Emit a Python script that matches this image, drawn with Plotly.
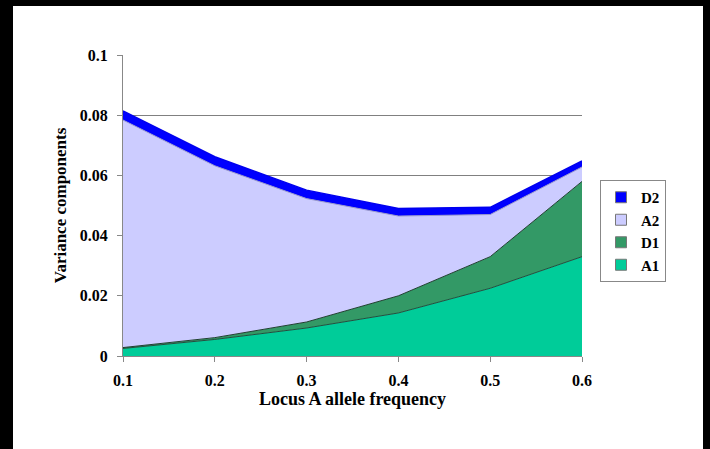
import plotly.graph_objects as go

# Allele frequency at locus A
freq = [0.1, 0.2, 0.3, 0.4, 0.5, 0.6]

# Variance components (stacked)
A1 = [0.0025, 0.0055, 0.0093, 0.0143, 0.0225, 0.0330]
D1 = [0.0003, 0.0006, 0.0020, 0.0057, 0.0105, 0.0250]
A2 = [0.0756, 0.0571, 0.0410, 0.0265, 0.0140, 0.0048]
D2 = [0.0030, 0.0030, 0.0028, 0.0025, 0.0024, 0.0020]

y_ticks = [0, 0.02, 0.04, 0.06, 0.08, 0.1]
y_ticktext = ["0", "0.02", "0.04", "0.06", "0.08", "0.1"]
x_ticktext = ["0.1", "0.2", "0.3", "0.4", "0.5", "0.6"]

series = [
    ("A1", A1, "#00CC99", "#1f4f3f", 1),
    ("D1", D1, "#339966", "#1f3f2f", 1),
    ("A2", A2, "#CCCCFF", "#9999cc", 1),
    ("D2", D2, "#0000FF", "#0000EE", 1.5),
]

SERIF = "Liberation Serif"

fig = go.Figure()
for name, vals, fill, edge, w in series:
    fig.add_trace(go.Scatter(
        x=freq, y=vals, name=name, mode="lines",
        stackgroup="vc", fillcolor=fill,
        line=dict(color=edge, width=w),
        hoverinfo="x+y+name", showlegend=False,
    ))

# square swatches for the legend
for name, vals, fill, edge, w in series:
    fig.add_trace(go.Scatter(
        x=[None], y=[None], name=name, mode="markers",
        marker=dict(symbol="square", size=11, color=fill,
                    line=dict(color="#777777", width=1)),
        showlegend=True,
    ))

W, H = 710, 449
L, R, T, B = 123, 128, 55, 93
pw = W - L - R
ph = H - T - B

def px_x(p):
    return (p - L) / pw

def px_y(p):
    return (H - B - p) / ph

# dark frame along the left, top and right edges of the page
frame = [(0, 0, 13, H), (0, 0, W, 6), (703, 0, W, H)]
shapes = []
for x0, y0, x1, y1 in frame:
    shapes.append(dict(
        type="rect", xref="paper", yref="paper",
        x0=px_x(x0), x1=px_x(x1), y0=px_y(y1), y1=px_y(y0),
        fillcolor="black", line=dict(width=0), layer="above",
    ))

fig.update_layout(
    width=W, height=H,
    margin=dict(l=L, r=R, t=T, b=B),
    paper_bgcolor="white", plot_bgcolor="white",
    font=dict(family=SERIF, size=16, color="black"),
    showlegend=True,
    legend=dict(
        x=px_x(600), y=px_y(180), xanchor="left", yanchor="top",
        bgcolor="white", bordercolor="#888888", borderwidth=1,
        font=dict(family=SERIF, size=15, color="black", weight="bold"),
        traceorder="reversed", itemwidth=30, tracegroupgap=0,
    ),
    xaxis=dict(
        range=[0.1, 0.6], tickvals=freq, ticktext=x_ticktext,
        showgrid=False, zeroline=False,
        showline=True, linecolor="#888888", linewidth=1,
        ticks="outside", ticklen=5, tickcolor="#888888",
        ticklabelstandoff=5,
        tickfont=dict(family=SERIF, size=16, weight="bold"),
        title=dict(text="<b>Locus A allele frequency</b>", standoff=2,
                   font=dict(family=SERIF, size=18)),
    ),
    yaxis=dict(
        range=[0, 0.1], tickvals=y_ticks, ticktext=y_ticktext,
        showgrid=True, gridcolor="#808080", gridwidth=1, zeroline=False,
        showline=True, linecolor="#888888", linewidth=1,
        ticks="outside", ticklen=5, tickcolor="#888888",
        ticklabelstandoff=6,
        tickfont=dict(family=SERIF, size=16, weight="bold"),
        title=dict(text="<b>Variance components</b>", standoff=8,
                   font=dict(family=SERIF, size=17)),
    ),
    shapes=shapes,
)

fig.write_html("out.html")
